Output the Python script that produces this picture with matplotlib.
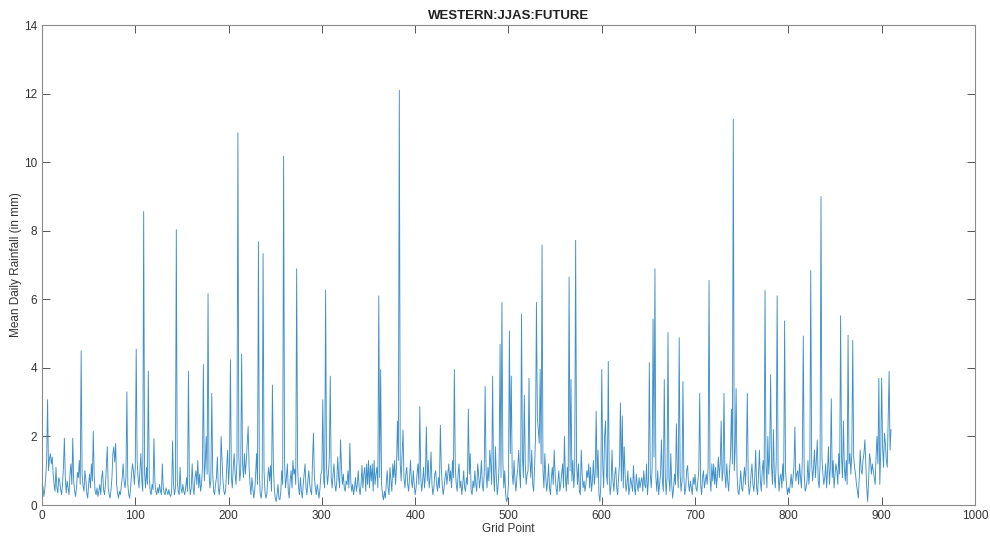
import matplotlib
matplotlib.use("Agg")
import matplotlib.pyplot as plt
import numpy as np

# Mean daily rainfall (mm) at each grid point, western region, JJAS, future run
rain_rows = [
    [0.55, 0.25, 0.45, 0.8, 1.3, 3.07, 1.0, 1.35, 1.5, 1.2],
    [1.4, 0.9, 0.6, 0.4, 1.1, 0.5, 0.35, 0.8, 0.7, 0.45],
    [0.3, 0.6, 1.1, 1.95, 0.8, 0.35, 0.7, 0.5, 0.3, 0.9],
    [1.2, 0.6, 1.95, 0.7, 0.4, 0.25, 0.5, 0.95, 0.8, 1.3],
    [0.6, 4.5, 0.9, 0.55, 0.4, 1.0, 0.75, 0.35, 0.2, 0.6],
    [0.9, 0.5, 1.2, 0.7, 2.15, 0.8, 0.4, 0.3, 0.5, 0.25],
    [0.4, 0.6, 0.3, 0.8, 1.0, 0.45, 0.3, 0.6, 1.1, 1.7],
    [0.5, 0.3, 0.2, 0.45, 0.8, 1.5, 1.7, 1.25, 1.8, 0.6],
    [0.35, 0.2, 0.4, 0.3, 0.55, 0.8, 1.2, 0.7, 0.5, 0.8],
    [3.3, 0.6, 0.3, 0.2, 0.5, 0.9, 1.2, 1.0, 0.6, 1.1],
    [4.55, 1.3, 0.8, 0.5, 1.0, 1.5, 0.7, 0.4, 8.56, 0.9],
    [0.5, 1.1, 0.6, 3.9, 0.8, 0.4, 0.3, 0.6, 0.45, 1.94],
    [0.7, 0.4, 0.3, 0.5, 0.35, 0.6, 0.4, 0.3, 1.2, 0.5],
    [0.35, 0.3, 0.5, 0.4, 0.3, 0.45, 0.3, 0.25, 0.4, 1.87],
    [0.6, 0.3, 0.5, 8.03, 0.7, 0.4, 0.3, 1.1, 0.5, 0.35],
    [0.6, 0.4, 0.3, 0.5, 0.8, 0.4, 3.9, 0.6, 0.3, 0.5],
    [1.2, 0.5, 0.3, 0.8, 1.0, 0.6, 1.3, 0.5, 0.9, 0.4],
    [0.6, 1.1, 4.1, 0.7, 1.2, 2.0, 0.9, 6.16, 1.0, 0.5],
    [0.7, 3.26, 0.9, 0.4, 0.3, 0.6, 0.8, 1.4, 0.5, 0.3],
    [0.6, 2.0, 1.3, 0.7, 0.4, 0.3, 0.5, 1.1, 1.6, 0.6],
    [1.2, 4.24, 0.8, 0.5, 1.1, 1.5, 0.9, 0.6, 1.3, 10.86],
    [1.4, 0.7, 1.0, 4.4, 1.2, 0.8, 1.5, 0.9, 1.3, 1.8],
    [2.29, 1.1, 0.6, 0.3, 0.8, 0.5, 0.2, 0.4, 0.9, 1.5],
    [0.6, 7.68, 0.9, 0.3, 0.2, 0.5, 7.33, 1.0, 0.4, 0.2],
    [0.3, 0.8, 1.1, 0.7, 1.15, 0.4, 3.5, 1.2, 0.5, 0.2],
    [0.1, 0.3, 0.6, 0.2, 0.15, 0.4, 1.0, 0.6, 10.18, 1.3],
    [0.5, 0.8, 1.2, 0.4, 0.2, 0.7, 1.0, 0.5, 1.3, 0.9],
    [1.05, 0.6, 6.89, 1.1, 0.5, 0.3, 0.8, 0.4, 0.2, 0.6],
    [0.9, 1.2, 0.5, 0.3, 0.7, 1.0, 0.6, 0.4, 0.3, 1.3],
    [2.1, 0.8, 0.5, 0.3, 0.6, 0.4, 0.2, 0.5, 0.9, 1.0],
    [3.07, 0.7, 0.5, 6.26, 1.1, 0.6, 0.9, 1.4, 3.76, 0.8],
    [0.5, 0.9, 1.2, 0.6, 0.4, 0.7, 1.4, 0.8, 0.5, 1.9],
    [1.1, 0.6, 0.9, 0.5, 0.4, 0.7, 0.6, 1.0, 0.5, 1.8],
    [0.7, 0.4, 0.6, 0.3, 0.5, 0.8, 0.4, 0.6, 1.0, 0.5],
    [0.3, 0.6, 1.15, 0.5, 0.9, 1.1, 0.4, 1.2, 0.6, 1.3],
    [0.5, 1.15, 0.7, 1.2, 0.4, 1.3, 0.6, 0.9, 1.1, 0.5],
    [6.1, 0.8, 3.95, 0.6, 0.3, 0.15, 0.4, 0.2, 0.6, 1.0],
    [0.5, 0.3, 1.1, 0.7, 0.4, 1.2, 0.8, 1.3, 0.6, 1.1],
    [2.45, 1.3, 12.1, 1.2, 0.7, 1.5, 2.19, 0.8, 0.5, 0.9],
    [1.1, 0.6, 0.4, 0.8, 1.3, 0.7, 0.5, 1.0, 0.6, 0.3],
    [0.5, 0.9, 1.2, 0.6, 2.87, 0.8, 0.4, 0.7, 1.1, 0.5],
    [0.9, 2.28, 0.7, 1.3, 0.5, 0.8, 1.55, 0.6, 0.3, 0.5],
    [0.9, 1.0, 0.6, 0.4, 0.8, 0.5, 2.33, 1.1, 0.6, 0.3],
    [0.5, 0.8, 1.0, 0.6, 0.9, 1.2, 0.7, 1.0, 0.5, 1.3],
    [0.8, 3.95, 1.1, 0.6, 0.4, 0.9, 1.2, 0.5, 0.7, 0.3],
    [0.6, 1.0, 0.5, 0.4, 0.8, 0.6, 2.8, 0.9, 1.5, 0.4],
    [0.3, 0.7, 0.5, 1.0, 0.6, 0.4, 1.2, 0.9, 0.5, 0.8],
    [1.3, 0.6, 0.4, 0.9, 3.46, 1.0, 0.5, 1.1, 0.7, 1.6],
    [1.2, 0.6, 3.76, 0.9, 0.4, 1.7, 0.8, 0.3, 0.6, 1.2],
    [4.69, 0.8, 5.91, 1.3, 0.5, 1.0, 0.3, 0.1, 0.2, 0.6],
    [5.08, 1.5, 3.76, 0.9, 0.6, 1.3, 0.7, 0.4, 0.8, 1.1],
    [1.6, 0.9, 0.5, 5.57, 1.4, 0.8, 3.2, 1.2, 0.6, 0.9],
    [1.0, 3.7, 1.3, 0.8, 1.6, 0.6, 0.4, 1.1, 2.0, 5.91],
    [2.5, 2.2, 1.8, 3.96, 1.2, 7.58, 1.0, 0.5, 1.5, 0.8],
    [0.4, 0.7, 1.2, 0.5, 0.3, 0.8, 1.1, 0.6, 1.6, 0.9],
    [0.5, 0.3, 0.7, 1.0, 0.4, 0.6, 0.9, 1.2, 0.5, 2.0],
    [0.8, 0.4, 1.1, 0.6, 6.65, 1.0, 3.66, 0.7, 1.3, 0.5],
    [1.0, 7.72, 1.2, 0.6, 1.2, 0.4, 0.3, 1.6, 0.9, 0.5],
    [0.7, 0.4, 0.6, 1.0, 0.8, 1.2, 0.5, 1.1, 0.4, 0.7],
    [1.3, 0.6, 0.9, 2.73, 0.8, 1.6, 0.3, 0.1, 0.6, 3.96],
    [1.2, 0.5, 2.0, 2.45, 0.9, 0.6, 4.19, 0.8, 0.3, 0.6],
    [1.6, 0.7, 0.4, 0.9, 1.1, 0.5, 0.3, 0.8, 1.2, 2.98],
    [0.7, 2.6, 0.5, 1.7, 0.9, 0.4, 0.6, 1.0, 0.3, 0.5],
    [0.8, 0.6, 0.4, 1.15, 0.5, 0.3, 0.9, 0.6, 0.4, 0.8],
    [0.5, 0.7, 0.8, 0.4, 1.0, 0.6, 0.5, 1.2, 0.3, 0.7],
    [4.15, 0.9, 0.5, 1.1, 5.42, 1.4, 6.89, 0.8, 0.4, 1.0],
    [0.3, 0.6, 0.9, 1.9, 0.7, 0.4, 3.66, 0.9, 0.3, 0.8],
    [5.03, 0.8, 0.4, 1.5, 0.6, 0.2, 0.5, 0.9, 0.6, 2.37],
    [1.0, 0.5, 4.88, 0.9, 0.4, 0.7, 3.6, 0.8, 0.3, 0.5],
    [1.0, 1.15, 0.6, 0.4, 0.7, 0.5, 0.3, 0.8, 0.6, 0.9],
    [0.5, 0.4, 0.7, 1.0, 3.26, 0.6, 0.3, 0.8, 1.0, 0.5],
    [0.7, 0.9, 0.6, 1.1, 6.55, 0.8, 0.4, 1.2, 0.7, 1.2],
    [0.6, 1.1, 0.5, 0.9, 1.4, 0.8, 1.2, 2.45, 0.7, 1.0],
    [3.26, 0.9, 0.5, 1.2, 0.7, 0.4, 1.0, 1.5, 2.8, 1.2],
    [11.25, 1.0, 1.6, 3.4, 0.9, 0.4, 0.3, 0.6, 1.0, 0.5],
    [0.4, 0.8, 1.1, 0.6, 1.3, 3.26, 0.7, 0.3, 0.5, 0.9],
    [1.2, 0.6, 0.4, 0.8, 1.6, 0.5, 0.3, 0.9, 1.6, 0.7],
    [0.4, 1.0, 1.3, 0.6, 6.26, 1.2, 0.5, 2.0, 0.9, 1.5],
    [3.8, 1.1, 0.6, 2.2, 0.8, 0.5, 1.3, 6.1, 1.0, 0.4],
    [0.8, 0.9, 0.5, 1.2, 0.7, 5.37, 1.0, 0.6, 0.3, 0.5],
    [0.35, 0.6, 0.9, 0.5, 0.8, 1.1, 2.28, 0.7, 0.9, 1.0],
    [0.6, 1.2, 0.8, 0.5, 1.4, 4.93, 0.9, 0.4, 0.5, 0.7],
    [1.3, 0.6, 1.0, 6.84, 1.2, 0.7, 1.1, 1.6, 0.8, 1.3],
    [1.9, 0.7, 0.5, 1.2, 9.0, 1.4, 0.9, 0.6, 0.8, 1.2],
    [0.5, 1.0, 1.7, 0.6, 1.1, 3.1, 0.8, 1.3, 0.5, 0.9],
    [1.2, 1.0, 0.6, 1.5, 0.9, 5.52, 1.4, 0.8, 2.45, 1.1],
    [0.7, 1.3, 0.6, 4.95, 1.2, 1.5, 0.9, 1.5, 4.8, 1.4],
    [1.1, 0.9, 0.6, 0.4, 0.2, 0.8, 1.6, 1.0, 0.9, 1.3],
    [1.5, 1.9, 1.2, 0.5, 0.1, 0.7, 1.5, 1.3, 0.9, 1.2],
    [1.0, 0.8, 0.6, 1.4, 2.0, 1.2, 3.7, 0.6, 1.5, 3.7],
    [1.7, 1.1, 2.1, 1.8, 1.3, 1.1, 2.5, 3.9, 1.6, 2.2],
]
rainfall = np.array([v for row in rain_rows for v in row])
grid_points = np.arange(1, len(rainfall) + 1)

x_ticks = list(range(0, 1001, 100))
y_ticks = list(range(0, 15, 2))

plt.rcParams['font.family'] = ['Liberation Sans', 'DejaVu Sans']

fig = plt.figure(figsize=(9.9, 5.38), dpi=100)
ax = fig.add_axes([0.0424, 0.0613, 0.9424, 0.8922])

ax.plot(grid_points, rainfall, color='#2a84c4', linewidth=0.65, alpha=0.9)

ax.set_xlim(0, 1000)
ax.set_ylim(0, 14)
ax.set_xticks(x_ticks)
ax.set_yticks(y_ticks)

spine_col = '#8a8a8a'
for s in ax.spines.values():
    s.set_color(spine_col)
    s.set_linewidth(0.8)
ax.tick_params(direction='in', length=6, width=0.7, color='#555555',
               labelcolor='#333333', labelsize=8.5, top=True, right=True)

ax.set_title('WESTERN:JJAS:FUTURE', fontsize=9.5, fontweight='bold',
             color='#222222', pad=4)
ax.set_xlabel('Grid Point', fontsize=8.5, color='#333333', labelpad=1)
ax.set_ylabel('Mean Daily Rainfall (in mm)', fontsize=8.5, color='#333333',
              labelpad=1)

fig.savefig('out.png', dpi=100, facecolor='white')
